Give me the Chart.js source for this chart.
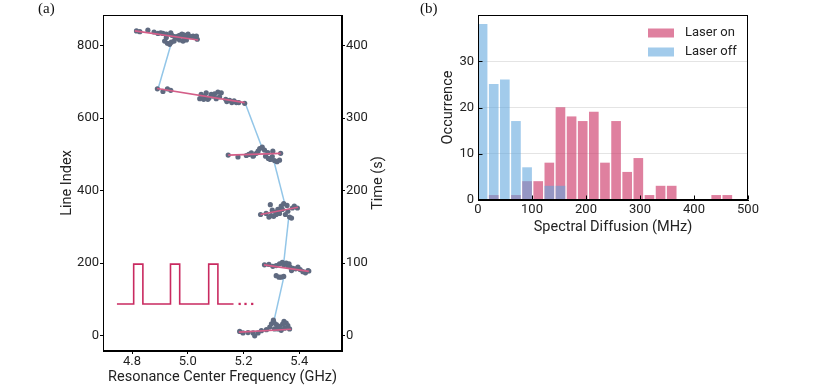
<!DOCTYPE html>
<html>
<head>
<meta charset="utf-8">
<script src="https://cdn.jsdelivr.net/npm/chart.js@4.4.1/dist/chart.umd.min.js"></script>
<style>
  body { margin: 0; background: #fff; }
  #wrap { position: relative; width: 831px; height: 392px; overflow: hidden; }
  canvas { position: absolute; top: 0; }
  .tag { position: absolute; font-family: "Liberation Serif", serif; font-size: 15px; color: #111; }
</style>
</head>
<body>
<div id="wrap">
  <canvas id="chartA" width="420" height="392" style="left:0"></canvas>
  <canvas id="chartB" width="411" height="240" style="left:420px"></canvas>
  <div class="tag" style="left:38px;top:0">(a)</div>
  <div class="tag" style="left:420px;top:0">(b)</div>
</div>
<script>
// ---- panel (a): resonance frequency per sweep ----
const freqTicks = [4.8, 5.0, 5.2, 5.4];
const indexTicks = [0, 200, 400, 600, 800];
const timeTicks = [0, 100, 200, 300, 400];

// [frequency GHz, line index]
const block1 = [[5.186,11],[5.198,7],[5.216,8],[5.234,7],[5.240,-1],[5.252,7],[5.264,13],[5.282,16],[5.294,23],
  [5.300,32],[5.309,36],[5.318,30],[5.323,18],[5.335,14],[5.345,39],[5.353,34],[5.359,27],[5.365,18],
  [5.329,25],[5.347,20],[5.311,18],[5.307,42],[5.340,31]];
const block2 = [[5.275,195],[5.291,196],[5.305,191],[5.317,193],[5.329,198],[5.339,202],[5.344,195],[5.353,200],
  [5.363,198],[5.367,189],[5.377,185],[5.387,184],[5.395,189],[5.403,182],[5.413,176],[5.422,173],[5.431,179],
  [5.434,178],[5.317,165],[5.327,161],[5.335,161],[5.344,163],[5.359,192],[5.372,179]];
const block3 = [[5.261,334],[5.281,337],[5.296,361],[5.303,346],[5.308,329],[5.315,340],[5.323,348],[5.329,337],
  [5.335,357],[5.339,348],[5.344,364],[5.350,334],[5.356,359],[5.359,343],[5.365,327],[5.372,324],[5.375,352],
  [5.382,357],[5.393,352],[5.299,331],[5.291,327],[5.317,334]];
const block4 = [[5.145,498],[5.180,493],[5.210,497],[5.219,500],[5.228,504],[5.236,497],[5.246,503],[5.252,509],
  [5.258,516],[5.267,520],[5.275,512],[5.279,495],[5.289,489],[5.296,486],[5.303,494],[5.311,483],[5.320,480],
  [5.329,484],[5.333,503],[5.305,509],[5.287,505],[5.234,495]];
const block5 = [[4.891,681],[4.911,674],[4.927,681],[4.939,677],[5.048,666],[5.060,661],[5.066,670],[5.076,656],
  [5.084,666],[5.090,661],[5.096,667],[5.102,654],[5.108,672],[5.114,659],[5.120,670],[5.043,654],[5.057,652],
  [5.072,652],[5.136,652],[5.140,646],[5.150,649],[5.158,643],[5.166,648],[5.174,643],[5.183,643],[5.204,641]];
const block6 = [[4.816,841],[4.828,839],[4.857,843],[4.879,838],[4.893,834],[4.903,836],[4.911,834],[4.923,832],
  [4.939,836],[4.943,829],[4.953,825],[4.965,827],[4.971,829],[4.979,832],[4.986,830],[4.995,827],[5.001,832],
  [5.010,825],[5.019,827],[5.025,823],[5.031,827],[5.034,818],[4.995,816],[4.983,813],[4.971,816],[4.917,813],
  [4.927,807],[4.935,804],[4.941,810],[4.951,813],[4.923,823],[4.989,820],[4.965,820]];

// linear fits per block: [f0, i0, f1, i1]
const fitLines = [[5.183,9,5.371,17],[5.273,195,5.434,177],[5.261,334,5.395,354],
  [5.145,498,5.333,503],[4.890,682,5.204,643],[4.810,841,5.037,816]];
// jumps between blocks
const jumps = [[5.309,40,5.345,163],[5.344,200,5.362,326],[5.347,366,5.309,481],
  [5.264,523,5.206,641],[4.893,680,4.939,802]];

// laser pulse sketch
const pulseFreq = [4.746,4.806,4.806,4.839,4.839,4.938,4.938,4.971,4.971,5.075,5.075,5.108,5.108,5.164];
const pulseLevel = [87,87,197,197,87,87,197,197,87,87,197,197,87,87];
const moreFreq = [5.186,5.207,5.231];

// ---- panel (b): spectral diffusion histogram ----
const binCenters = [8.5,29.1,49.7,70.3,90.9,111.5,132.1,152.7,173.3,193.9,214.5,235.1,255.7,276.3,296.9,317.5,338.1,358.7,379.3,399.9,420.5,441.1,461.7];
const laserOn  = [0,1,0,1,4,4,8,20,18,17,19,8,17,6,9,1,3,3,0,0,0,1,1];
const laserOff = [38,25,26,17,7,0,3,3,0,0,0,0,0,0,0,0,0,0,0,0,0,0,0];
const mhzTicks = [0, 100, 200, 300, 400, 500];
const occTicks = [0, 10, 20, 30];

Chart.defaults.font.family = 'Roboto';
Chart.defaults.color = '#222';
Chart.defaults.animation = false;

const PINK = '#d45e88';
const BLUE = '#93c6e8';
const DOT = '#5f6a80';
const PULSE = '#c92a60';

const setTicks = (vals) => (scale) => { scale.ticks = vals.map(v => ({ value: v })); };

// box around the plot area, optional inward ticks and a rotated right-hand title
const frame = {
  id: 'frame',
  afterDraw(chart, args, opts) {
    const { ctx, chartArea: a } = chart;
    ctx.save();
    ctx.strokeStyle = '#000';
    ctx.lineWidth = 1;
    const l = Math.round(a.left) + 0.5, t = Math.round(a.top) + 0.5;
    const r = Math.round(a.right) - 0.5, b = Math.round(a.bottom) - 0.5;
    ctx.strokeRect(l, t, r - l, b - t);
    if (opts.inward) {
      ctx.beginPath();
      chart.scales.x.ticks.forEach(tk => {
        const px = Math.round(chart.scales.x.getPixelForValue(tk.value)) + 0.5;
        ctx.moveTo(px, b); ctx.lineTo(px, b - 4);
      });
      chart.scales.y.ticks.forEach(tk => {
        const py = Math.round(chart.scales.y.getPixelForValue(tk.value)) + 0.5;
        ctx.moveTo(l, py); ctx.lineTo(l + 4, py);
      });
      ctx.stroke();
    }
    if (opts.rightTitle) {
      ctx.fillStyle = '#222';
      ctx.font = '14.5px Roboto';
      ctx.textAlign = 'center';
      ctx.textBaseline = 'middle';
      ctx.translate(opts.rightTitle.x, (a.top + a.bottom) / 2);
      ctx.rotate(-Math.PI / 2);
      ctx.fillText(opts.rightTitle.text, 0, 0);
    }
    ctx.restore();
  }
};

// legend drawn inside the plot area (top right)
const innerLegend = {
  id: 'innerLegend',
  afterDraw(chart, args, opts) {
    const { ctx } = chart;
    ctx.save();
    ctx.font = '13px Roboto';
    ctx.textBaseline = 'middle';
    opts.items.forEach((it, i) => {
      const ds = chart.data.datasets[it];
      const y = opts.y + i * opts.gap;
      ctx.fillStyle = ds.backgroundColor;
      ctx.fillRect(opts.x, y - 4.5, 26, 9);
      ctx.fillStyle = '#222';
      ctx.fillText(ds.label, opts.x + 37, y);
    });
    ctx.restore();
  }
};

const toXY = (pairs) => pairs.map(p => ({ x: p[0], y: p[1] }));
const segData = (s) => [{ x: s[0], y: s[1] }, { x: s[2], y: s[3] }];

const axisA = {
  grid: { display: true, drawOnChartArea: false, drawTicks: true, tickLength: 3, color: '#000' },
  border: { display: true, color: '#000', width: 1 },
};

new Chart(document.getElementById('chartA'), {
  type: 'scatter',
  data: {
    datasets: [
      ...fitLines.map(s => ({
        type: 'line', data: segData(s), borderColor: PINK, borderWidth: 1.7,
        pointRadius: 0, order: 0,
      })),
      {
        data: toXY([...block1, ...block2, ...block3, ...block4, ...block5, ...block6]),
        backgroundColor: DOT, borderWidth: 0, pointRadius: 2.6, order: 1,
      },
      ...jumps.map(s => ({
        type: 'line', data: segData(s), borderColor: BLUE, borderWidth: 1.5,
        pointRadius: 0, order: 2,
      })),
      {
        type: 'line', data: pulseFreq.map((f, i) => ({ x: f, y: pulseLevel[i] })),
        borderColor: PULSE, borderWidth: 1.6, pointRadius: 0, order: 3,
      },
      {
        data: moreFreq.map(f => ({ x: f, y: 87 })),
        backgroundColor: PULSE, borderWidth: 0, pointStyle: 'rect', pointRadius: 1.6, order: 3,
      },
    ],
  },
  options: {
    responsive: false,
    layout: { padding: { left: 55, right: 29, top: 15, bottom: 2 } },
    plugins: {
      legend: { display: false },
      tooltip: { enabled: false },
      frame: { rightTitle: { text: 'Time (s)', x: 378 } },
    },
    scales: {
      x: {
        ...axisA, type: 'linear', min: 4.696, max: 5.553,
        afterBuildTicks: setTicks(freqTicks),
        afterFit: (s) => { s.height = 39; },
        ticks: { font: { size: 13 }, padding: 0, callback: (v) => v.toFixed(1) },
        title: { display: true, text: 'Resonance Center Frequency (GHz)', font: { size: 14.5 } },
      },
      y: {
        ...axisA, position: 'left', min: -43, max: 885,
        afterBuildTicks: setTicks(indexTicks),
        afterFit: (s) => { s.width = 48; },
        ticks: { font: { size: 13 }, padding: 1 },
        title: { display: true, text: 'Line Index', font: { size: 14.5 } },
      },
      yTime: {
        ...axisA, position: 'right', display: true, min: -21.5, max: 442.5,
        afterBuildTicks: setTicks(timeTicks),
        afterFit: (s) => { s.width = 49; },
        ticks: { font: { size: 13 }, padding: 1 },
      },
    },
  },
  plugins: [frame],
});

new Chart(document.getElementById('chartB'), {
  type: 'bar',
  data: {
    datasets: [
      {
        label: 'Laser on', data: binCenters.map((c, i) => ({ x: c, y: laserOn[i] })),
        backgroundColor: 'rgba(204, 50, 100, 0.62)', order: 1,
      },
      {
        label: 'Laser off', data: binCenters.map((c, i) => ({ x: c, y: laserOff[i] })),
        backgroundColor: 'rgba(95, 165, 220, 0.58)', order: 0,
      },
    ],
  },
  options: {
    responsive: false,
    layout: { padding: { left: 16, right: 83, top: 15, bottom: 0 } },
    datasets: { bar: { grouped: false, barThickness: 9 } },
    plugins: {
      legend: { display: false },
      tooltip: { enabled: false },
      frame: { inward: true },
      innerLegend: { items: [0, 1], x: 228, y: 33, gap: 19 },
    },
    scales: {
      x: {
        type: 'linear', offset: false, min: 0, max: 500,
        afterBuildTicks: setTicks(mhzTicks),
        afterFit: (s) => { s.height = 40; },
        grid: { display: false, drawTicks: false },
        border: { display: true, color: '#000' },
        ticks: { font: { size: 13 }, padding: 2 },
        title: { display: true, text: 'Spectral Diffusion (MHz)', font: { size: 14.5 } },
      },
      y: {
        min: 0, max: 40,
        afterBuildTicks: setTicks(occTicks),
        afterFit: (s) => { s.width = 42; },
        grid: { color: '#e4e4e4', drawTicks: false },
        border: { display: true, color: '#000' },
        ticks: { font: { size: 13 }, padding: 4 },
        title: { display: true, text: 'Occurrence', font: { size: 14.5 } },
      },
    },
  },
  plugins: [frame, innerLegend],
});
</script>
</body>
</html>
